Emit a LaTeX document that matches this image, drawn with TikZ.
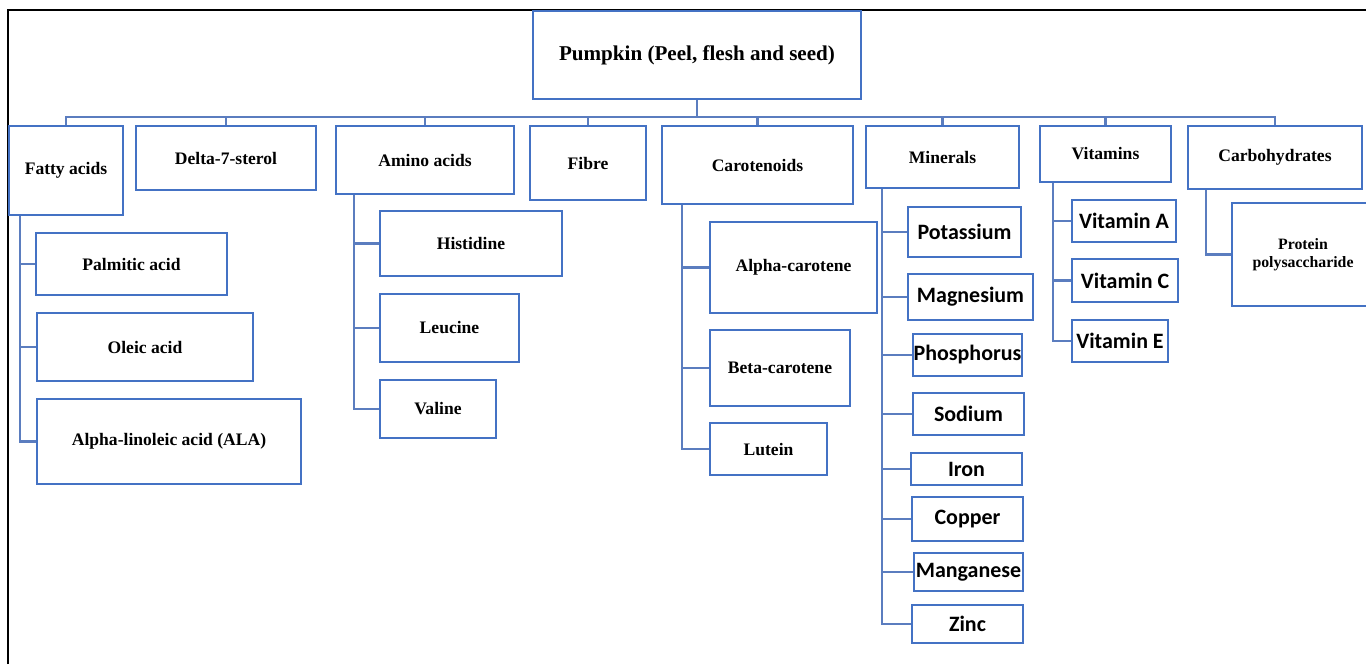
\documentclass[tikz,border=0pt]{standalone}
\usepackage{fontspec}
\setmainfont{Liberation Serif}
\newfontfamily\calib{Carlito}

\definecolor{boxblue}{HTML}{4472C4}
\definecolor{linkblue}{HTML}{5B7DBF}

\tikzset{
  box/.style={draw=boxblue, line width=1.2pt, fill=white, inner sep=0pt, align=center, font=\bfseries},
  mbox/.style={box, font={\calib\fontsize{12.5}{15}\selectfont\bfseries}},
  sz/.style 2 args={minimum width=#1*0.02cm, minimum height=#2*0.02cm},
  link/.style={draw=linkblue, line width=1.3pt},
}

\begin{document}
\begin{tikzpicture}[x=0.02cm, y=-0.02cm]
	\useasboundingbox (0,0) rectangle (1366,664);
	\clip (0,0) rectangle (1366,664);
	
	% page frame (left and top edge)
	\draw[line width=1pt] (8,664) -- (8,10) -- (1366,10);
	
	% root
	\node[box, sz={328}{88}, font=\large\bfseries] (pumpkin) at (697,55) {Pumpkin (Peel, flesh and seed)};
	
	% main groups
	\node[box, sz={114}{89}] (fatty) at (66,170.5) {Fatty acids};
	\node[box, sz={180}{64}] (sterol) at (226,158) {Delta-7-sterol};
	\node[box, sz={178}{68}] (amino) at (425,160) {Amino acids};
	\node[box, sz={116}{74}] (fibre) at (588,163) {Fibre};
	\node[box, sz={191}{78}] (carot) at (757.5,165) {Carotenoids};
	\node[box, sz={153}{62}] (minerals) at (942.5,157) {Minerals};
	\node[box, sz={131}{56}] (vitamins) at (1105.5,154) {Vitamins};
	\node[box, sz={174}{63}] (carbs) at (1275,157.5) {Carbohydrates};
	
	% bus from the root to the groups
	\coordinate (bus) at (697,117);
	\draw[link] (pumpkin.south) -- (bus);
	\foreach \g in {fatty,sterol,amino,fibre,carot,minerals,vitamins,carbs}
		\draw[link] (bus) -| (\g.north);
	
	% fatty acids
	\node[box, sz={191}{62}] (palm) at (131.5,264) {Palmitic acid};
	\node[box, sz={216}{68}] (oleic) at (145,347) {Oleic acid};
	\node[box, sz={264}{85}] (ala) at (169,441.5) {Alpha-linoleic acid (ALA)};
	\foreach \c in {palm,oleic,ala}
		\draw[link] (fatty.south -| 20,0) |- (\c.west);
	
	% amino acids
	\node[box, sz={182}{65}] (histidine) at (471,243.5) {Histidine};
	\node[box, sz={139}{68}] (leucine) at (449.5,328) {Leucine};
	\node[box, sz={116}{58}] (valine) at (438,409) {Valine};
	\foreach \c in {histidine,leucine,valine}
		\draw[link] (amino.south -| 354,0) |- (\c.west);
	
	% carotenoids
	\node[box, sz={167}{91}] (alphac) at (793.5,267.5) {Alpha-carotene};
	\node[box, sz={140}{76}] (betac) at (780,368) {Beta-carotene};
	\node[box, sz={117}{52}] (lutein) at (768.5,449) {Lutein};
	\foreach \c in {alphac,betac,lutein}
		\draw[link] (carot.south -| 682,0) |- (\c.west);
	
	% minerals
	\node[mbox, sz={113}{50}] (potassium) at (964.5,232) {Potassium};
	\node[mbox, sz={125}{46}] (magnesium) at (970.5,297) {Magnesium};
	\node[mbox, sz={109}{42}] (phosphorus) at (967.5,355) {Phosphorus};
	\node[mbox, sz={111}{42}] (sodium) at (968.5,414) {Sodium};
	\node[mbox, sz={111}{32}] (iron) at (966.5,469) {Iron};
	\node[mbox, sz={111}{44}] (copper) at (967.5,519) {Copper};
	\node[mbox, sz={109}{38}] (manganese) at (968.5,572) {Manganese};
	\node[mbox, sz={111}{38}] (zinc) at (967.5,624) {Zinc};
	\foreach \c in {potassium,magnesium,phosphorus,sodium,iron,copper,manganese,zinc}
		\draw[link] (minerals.south -| 882,0) |- (\c.west);
	
	% vitamins
	\node[mbox, sz={104}{42}] (vita) at (1124,221) {Vitamin A};
	\node[mbox, sz={106}{43}] (vitc) at (1125,280.5) {Vitamin C};
	\node[mbox, sz={96}{42}] (vite) at (1120,341) {Vitamin E};
	\foreach \c in {vita,vitc,vite}
		\draw[link] (vitamins.south -| 1053,0) |- (\c.west);
	
	% carbohydrates
	\node[box, sz={142}{103}, font={\fontsize{9}{10}\selectfont\bfseries}] (protein) at (1303,254.5) {Protein\\polysaccharide};
	\draw[link] (carbs.south -| 1206,0) |- (protein.west);
	
\end{tikzpicture}
\end{document}
